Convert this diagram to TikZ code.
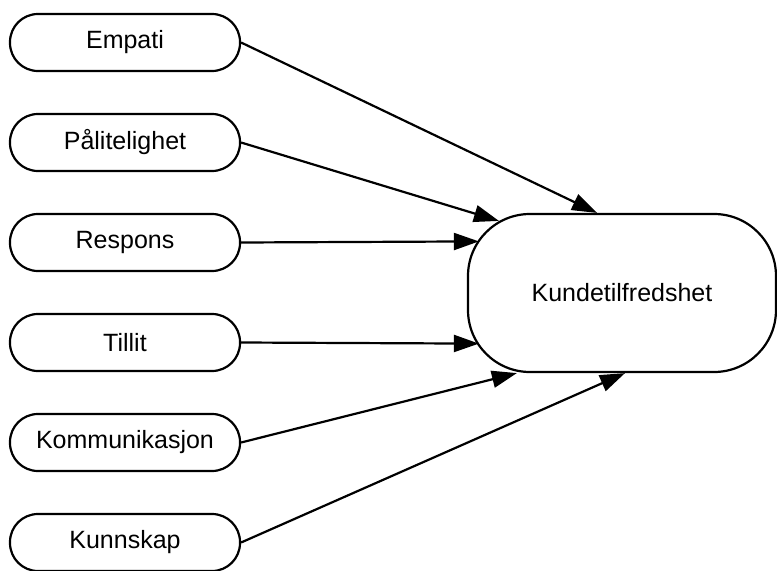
\documentclass[tikz,border=0pt]{standalone}
\usepackage{fontspec}
\setmainfont{Liberation Sans}
\usetikzlibrary{arrows.meta,calc}

\begin{document}
\begin{tikzpicture}[x=0.5pt,y=0.5pt,>={Triangle[length=12.5pt,width=8.5pt]},line width=1.1pt,node distance=50pt,
    factor node/.style={draw,rounded corners=14pt,minimum width=115pt,minimum height=28.5pt,font=\fontsize{12.5}{15}\selectfont},
    result node/.style={draw,rounded corners=31pt,minimum width=154pt,minimum height=79pt,font=\fontsize{12.5}{15}\selectfont}]

    \useasboundingbox (0,0) rectangle (777,570);

    \node[factor node] (empati) at (125,527.5) {Empati};
    \node[factor node] (paalitelighet) [below of=empati] {Pålitelighet};
    \node[factor node] (respons) [below of=paalitelighet] {Respons};
    \node[factor node] (tillit) [below of=respons] {Tillit};
    \node[factor node] (kommunikasjon) [below of=tillit] {Kommunikasjon};
    \node[factor node] (kunnskap) [below of=kommunikasjon] {Kunnskap};

    \node[result node] (kunde) at (622,277) {Kundetilfredshet};

    % ends on the border of the big node
    \coordinate (in1) at ($(kunde.north)+(-25,0)$);
    \coordinate (in2) at ($(kunde.north west)+(32,-8)$);
    \coordinate (in3) at ($(kunde.north west)+(12,-28.5)$);
    \coordinate (in4) at ($(kunde.south west)+(12,29.5)$);
    \coordinate (in5) at ($(kunde.south west)+(50,0)$);
    \coordinate (in6) at ($(kunde.south)+(3,0)$);

    \path[->]
        (empati.east) edge (in1)
        (paalitelighet.east) edge (in2)
        (respons.east) edge (in3)
        (tillit.east) edge (in4)
        (kommunikasjon.east) edge (in5)
        (kunnskap.east) edge (in6)
        ;
\end{tikzpicture}
\end{document}
